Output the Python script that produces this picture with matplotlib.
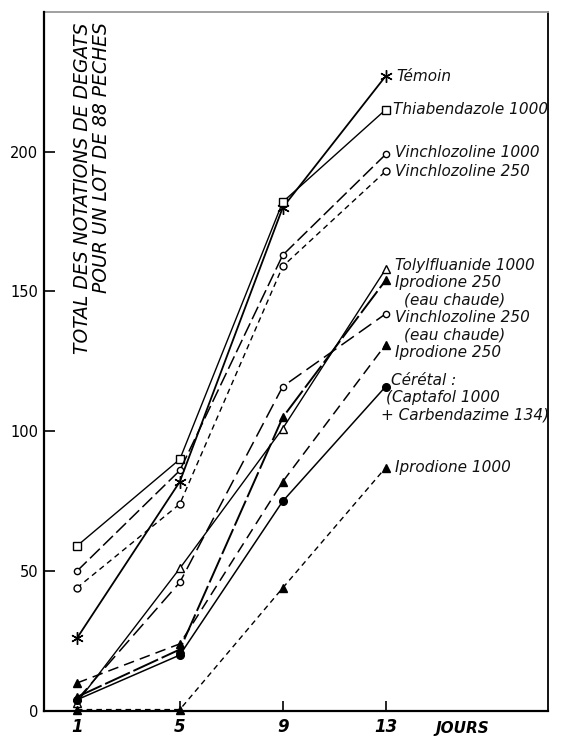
import matplotlib.pyplot as plt

# days of observation
jours = [1, 5, 9, 13]

# total damage scores per lot of 88 peaches
temoin = [26, 82, 180, 227]
thiabendazole_1000 = [59, 90, 182, 215]
vinchlozoline_1000 = [50, 86, 163, 199]
vinchlozoline_250 = [44, 74, 159, 193]
tolylfluanide_1000 = [3, 51, 101, 158]
iprodione_250_ec = [5, 22, 105, 154]
vinchlozoline_250_ec = [4, 46, 116, 142]
iprodione_250 = [10, 24, 82, 131]
ceretal = [4, 20, 75, 116]
iprodione_1000 = [0.5, 0.5, 44, 87]

series = [temoin, thiabendazole_1000, vinchlozoline_1000, vinchlozoline_250,
          tolylfluanide_1000, iprodione_250_ec, vinchlozoline_250_ec,
          iprodione_250, ceretal, iprodione_1000]

labels = [["Témoin"],
          ["Thiabendazole 1000"],
          ["Vinchlozoline 1000"],
          ["Vinchlozoline 250"],
          ["Tolylfluanide 1000"],
          ["Iprodione 250", "(eau chaude)"],
          ["Vinchlozoline 250", "(eau chaude)"],
          ["Iprodione 250"],
          ["Cérétal :", "(Captafol 1000", "+ Carbendazime 134)"],
          ["Iprodione 1000"]]

yticks = [0, 50, 100, 150, 200]
xticks = [1, 5, 9, 13]

# marker, marker face, line dashes, line width, marker size
styles = [((6, 2, 0), 'k', None, 1.3, 9),
          ('s', 'white', None, 1.0, 5.5),
          ('o', 'white', (9, 3), 1.1, 4.5),
          ('o', 'white', (4, 3), 1.0, 5),
          ('^', 'white', None, 1.0, 6),
          ('^', 'k', (14, 2), 1.4, 6),
          ('o', 'white', (10, 4), 1.1, 4.5),
          ('^', 'k', (7, 4), 1.1, 6),
          ('o', 'k', None, 1.1, 5.5),
          ('^', 'k', (4, 3), 1.0, 6)]

# text placement (points) relative to the day 13 marker
text_dx = [[8], [5], [7], [7], [7], [7, 13], [7, 13], [7], [4, 0, -3], [7]]
text_dy = [0, 0, 1.3, -0.3, 2.6, -1.9, -2.7, -5.6, 4.3, 0]
line_step = 12.5

plt.rcParams['font.family'] = 'DejaVu Sans'
fig = plt.figure(figsize=(5.81, 7.38), dpi=100)
ax = fig.add_axes([0.0757, 0.0366, 0.867, 0.9474])

for vals, (mk, mfc, dash, lw, ms) in zip(series, styles):
    line, = ax.plot(jours, vals, color='k', lw=lw, marker=mk, ms=ms,
                    mfc=mfc, mec='k', mew=1.0, clip_on=False)
    if dash is not None:
        line.set_dashes(dash)

for vals, lab, dxs, dy in zip(series, labels, text_dx, text_dy):
    for i, (txt, dx) in enumerate(zip(lab, dxs)):
        ax.annotate(txt, xy=(jours[-1], vals[-1]),
                    xytext=(dx, dy - line_step * i),
                    textcoords='offset points', va='center', ha='left',
                    fontsize=11, style='italic', color='#111',
                    annotation_clip=False)

ax.set_xlim(-0.28, 19.3)
ax.set_ylim(0, 250)
ax.set_yticks(yticks)
ax.set_yticklabels([str(v) for v in yticks], fontsize=10.5)
ax.set_xticks(xticks)
ax.set_xticklabels([str(v) for v in xticks], fontsize=12, style='italic',
                   fontweight='bold')
ax.tick_params(axis='y', direction='in', length=8, width=1.2, pad=4)
ax.tick_params(axis='x', direction='in', length=7, width=1.2, pad=5)

for s in ['left', 'bottom']:
    ax.spines[s].set_linewidth(1.6)
    ax.spines[s].set_zorder(3)
ax.spines['right'].set_linewidth(1.3)
ax.spines['top'].set_linewidth(1.3)
ax.spines['top'].set_color('#999999')

ax.text(0.83, -0.014, "JOURS", transform=ax.transAxes, ha='center',
        va='top', fontsize=11, style='italic', fontweight='bold')

ax.text(0.076, 0.985, "TOTAL DES NOTATIONS DE DEGATS", transform=ax.transAxes,
        rotation=90, ha='center', va='top', fontsize=13.5, style='italic')
ax.text(0.114, 0.985, "POUR UN LOT DE 88 PECHES", transform=ax.transAxes,
        rotation=90, ha='center', va='top', fontsize=13.5, style='italic')

fig.savefig('out.png', dpi=100)
